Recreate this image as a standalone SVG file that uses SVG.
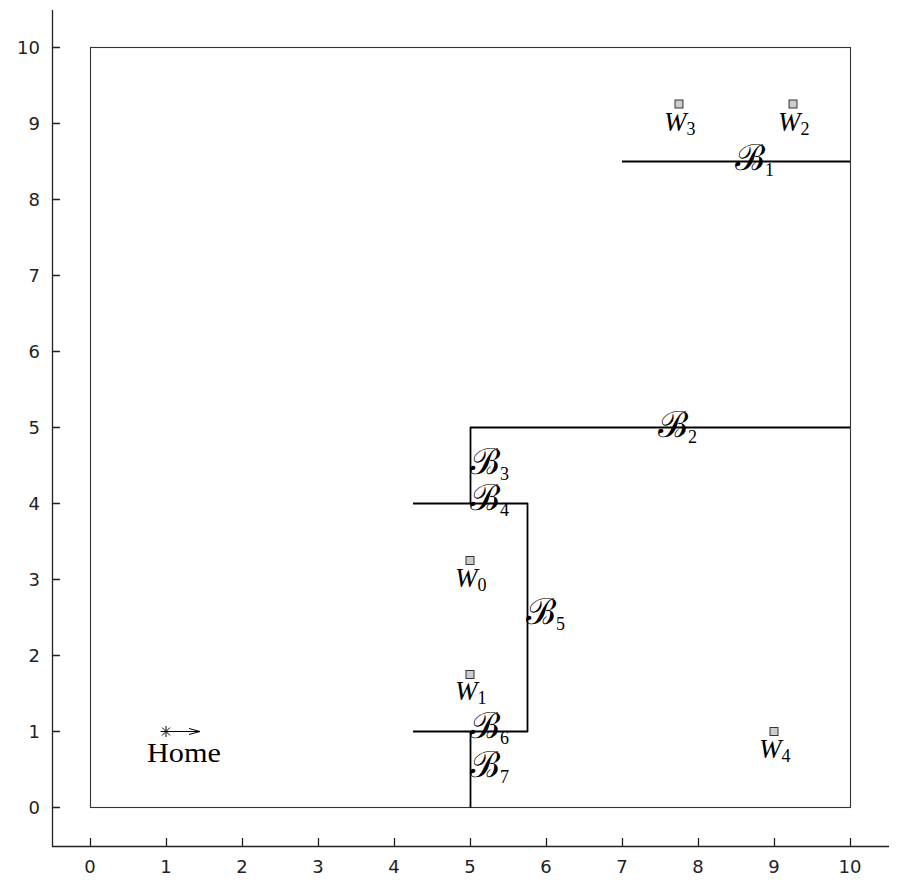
<svg xmlns="http://www.w3.org/2000/svg" width="922" height="891" viewBox="0 0 922 891">
<style>
.ax{stroke:#222;stroke-width:1.3;fill:none}
.tl{font-family:"DejaVu Sans",sans-serif;font-size:18px;fill:#222}
.bd{stroke:#333;stroke-width:1.1;fill:none}
.wall{stroke:#000;stroke-width:1.8;fill:none}
.wp{fill:#ccc;stroke:#333;stroke-width:1}
.m{font-family:"Liberation Serif","DejaVu Serif",serif;font-size:27px;fill:#000}
.mi{font-style:italic}
.sub{font-size:18px;font-style:normal}
.cal{font-family:"DejaVu Serif","Liberation Serif",serif;font-size:36px;font-style:normal}
</style>
<defs>
<marker id="ah" markerWidth="12" markerHeight="8" refX="11" refY="4" orient="auto" markerUnits="userSpaceOnUse">
<path d="M0,1 L11,4 L0,7" fill="none" stroke="#000" stroke-width="1"/>
</marker>
</defs>
<rect width="922" height="891" fill="#fff"/>
<g id="axes">
<path class="ax" d="M52.5,10 V846.5 H889"/>
<path class="ax" d="M52,807.5h8M52,731.5h8M52,655.5h8M52,579.5h8M52,503.5h8M52,427.5h8M52,351.5h8M52,275.5h8M52,199.5h8M52,123.5h8M52,47.5h8"/>
<path class="ax" d="M90.5,846v-8M166.5,846v-8M242.5,846v-8M318.5,846v-8M394.5,846v-8M470.5,846v-8M546.5,846v-8M622.5,846v-8M698.5,846v-8M774.5,846v-8M850.5,846v-8"/>
<g class="tl" text-anchor="end">
<text x="40" y="814">0</text><text x="40" y="738">1</text><text x="40" y="662">2</text><text x="40" y="586">3</text><text x="40" y="510">4</text><text x="40" y="434">5</text><text x="40" y="358">6</text><text x="40" y="282">7</text><text x="40" y="206">8</text><text x="40" y="130">9</text><text x="40" y="54">10</text>
</g>
<g class="tl" text-anchor="middle">
<text x="90" y="873">0</text><text x="166" y="873">1</text><text x="242" y="873">2</text><text x="318" y="873">3</text><text x="394" y="873">4</text><text x="470" y="873">5</text><text x="546" y="873">6</text><text x="622" y="873">7</text><text x="698" y="873">8</text><text x="774" y="873">9</text><text x="850" y="873">10</text>
</g>
</g>
<g id="boundary"><rect class="bd" x="90.5" y="47.5" width="760" height="760"/></g>
<g id="connectors">
<path id="B1" class="wall" d="M622,161.5H850"/>
<path id="B2" class="wall" d="M470,427.5H850"/>
<path id="B3" class="wall" d="M470.5,427V504"/>
<path id="B4" class="wall" d="M413,503.5H528"/>
<path id="B5" class="wall" d="M527.5,503V732"/>
<path id="B6" class="wall" d="M413,731.5H528"/>
<path id="B7" class="wall" d="M470.5,731V808"/>
</g>
<g id="wall-labels" class="m">
<text x="735" y="170"><tspan class="cal">ℬ</tspan><tspan class="sub" dy="6">1</tspan></text>
<text x="658" y="437"><tspan class="cal">ℬ</tspan><tspan class="sub" dy="6">2</tspan></text>
<text x="470" y="474"><tspan class="cal">ℬ</tspan><tspan class="sub" dy="6">3</tspan></text>
<text x="470" y="510"><tspan class="cal">ℬ</tspan><tspan class="sub" dy="6">4</tspan></text>
<text x="526" y="624"><tspan class="cal">ℬ</tspan><tspan class="sub" dy="6">5</tspan></text>
<text x="470" y="738"><tspan class="cal">ℬ</tspan><tspan class="sub" dy="6">6</tspan></text>
<text x="470" y="777"><tspan class="cal">ℬ</tspan><tspan class="sub" dy="6">7</tspan></text>
</g>
<g id="W0"><rect class="wp" x="466" y="556.5" width="8" height="8"/><text class="m" x="455" y="587"><tspan class="mi">W</tspan><tspan class="sub" dy="4">0</tspan></text></g>
<g id="W1"><rect class="wp" x="466" y="670.5" width="8" height="8"/><text class="m" x="455" y="700"><tspan class="mi">W</tspan><tspan class="sub" dy="4">1</tspan></text></g>
<g id="W2"><rect class="wp" x="789" y="100" width="8" height="8"/><text class="m" x="778" y="131"><tspan class="mi">W</tspan><tspan class="sub" dy="4">2</tspan></text></g>
<g id="W3"><rect class="wp" x="675" y="100" width="8" height="8"/><text class="m" x="664" y="131"><tspan class="mi">W</tspan><tspan class="sub" dy="4">3</tspan></text></g>
<g id="W4"><rect class="wp" x="770" y="727.5" width="8" height="8"/><text class="m" x="759" y="758"><tspan class="mi">W</tspan><tspan class="sub" dy="4">4</tspan></text></g>
<g id="Home">
<path d="M166,731.5H200" stroke="#000" stroke-width="1" marker-end="url(#ah)"/>
<path d="M160.5,731.5h11M166,726v11M162,727.5l8,8M170,727.5l-8,8" stroke="#000" stroke-width="1"/>
<text class="m" x="147" y="762" textLength="74" lengthAdjust="spacingAndGlyphs">Home</text>
</g>
</svg>
